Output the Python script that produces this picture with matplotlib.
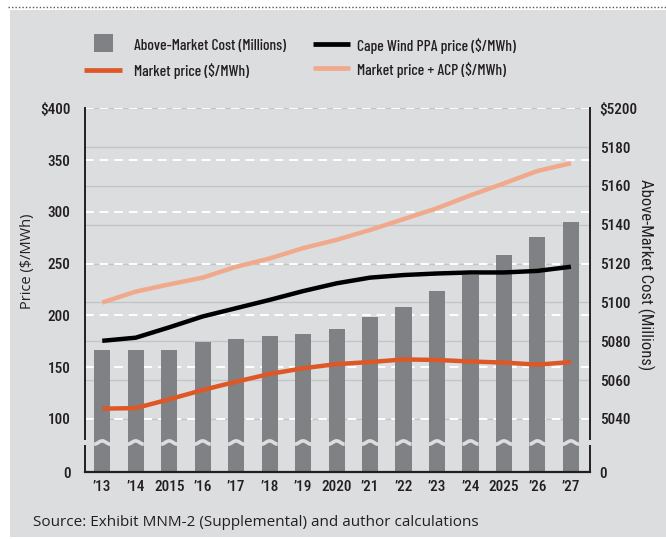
import numpy as np
import matplotlib
matplotlib.use("Agg")
import matplotlib.pyplot as plt
import matplotlib.patches as mpatches
from matplotlib.lines import Line2D
from matplotlib.transforms import blended_transform_factory

# ── Data ──────────────────────────────────────────────────────────────────────
years = ["\u201913", "\u201914", "2015", "\u201916", "\u201917", "\u201918", "\u201919",
         "2020", "\u201921", "\u201922", "\u201923", "\u201924", "2025", "\u201926", "\u201927"]
above_market = [5075.5, 5075.5, 5075.5, 5079.8, 5081.2, 5082.9, 5083.8, 5086.4,
                5092.7, 5097.5, 5105.9, 5114.0, 5124.4, 5133.6, 5141.3]
ppa_price = [175.5, 178.5, 188.5, 199.0, 207.0, 215.0, 223.5, 231.0,
             236.5, 239.0, 240.5, 241.5, 241.5, 243.0, 247.0]
market_price = [110.0, 110.5, 119.0, 128.0, 136.0, 143.5, 149.0, 153.0,
                155.0, 157.5, 157.0, 155.5, 154.5, 152.5, 155.0]
market_acp = [212.5, 223.0, 230.0, 236.5, 247.0, 255.0, 265.0, 273.0,
              282.5, 293.0, 303.5, 316.0, 327.5, 339.5, 347.0]

left_ticks = [0, 100, 150, 200, 250, 300, 350, 400]
left_labels = ["0", "100", "150", "200", "250", "300", "350", "$400"]
right_ticks = [0, 5040, 5060, 5080, 5100, 5120, 5140, 5160, 5180, 5200]
right_labels = ["0", "5040", "5060", "5080", "5100", "5120", "5140", "5160", "5180", "$5200"]

# ── Style ─────────────────────────────────────────────────────────────────────
W, H = 666, 539
PANEL = "#dcdddf"
BAR = "#808184"
ORANGE = "#de5726"
PEACH = "#f1a98c"
INK = "#231f20"
COND = ["Roboto Condensed", "Liberation Sans Narrow", "DejaVu Sans"]
XCOND = ["Barlow Condensed", "Roboto Condensed", "Liberation Sans Narrow", "DejaVu Sans"]
PLAIN = ["Open Sans", "DejaVu Sans"]

# broken axis: the 0..100 / 0..5040 stretch is squeezed into 53 px
LOW_PX = 53.0
HI_L = (363.7 - LOW_PX) / 300.0
HI_R = (363.7 - LOW_PX) / 160.0


def fwd_l(v):
    v = np.asarray(v, float)
    return np.where(v < 100, v * LOW_PX / 100, LOW_PX + (v - 100) * HI_L)


def inv_l(d):
    d = np.asarray(d, float)
    return np.where(d < LOW_PX, d * 100 / LOW_PX, 100 + (d - LOW_PX) / HI_L)


def fwd_r(v):
    v = np.asarray(v, float)
    return np.where(v < 5040, v * LOW_PX / 5040, LOW_PX + (v - 5040) * HI_R)


def inv_r(d):
    d = np.asarray(d, float)
    return np.where(d < LOW_PX, d * 5040 / LOW_PX, 5040 + (d - LOW_PX) / HI_R)


def fx(x):
    return x / W


def fy(y):
    return 1 - y / H


fig = plt.figure(figsize=(W / 100, H / 100), dpi=100)
fig.patch.set_facecolor("white")

# grey panel + dotted rule on top
fig.patches.append(mpatches.Rectangle((fx(10), fy(537)), 1 - fx(10), fy(10) - fy(537),
                                      transform=fig.transFigure, facecolor=PANEL,
                                      edgecolor="none", zorder=-5))
fig.lines.append(Line2D([fx(8), 1], [fy(6.5), fy(6.5)], transform=fig.transFigure,
                        color="#555", lw=1.0, linestyle=(0, (1, 1.5)), zorder=-4))

ax = fig.add_axes([fx(84.5), fy(472), fx(590) - fx(84.5), fy(108.3) - fy(472)])
axr = ax.twinx()
ax.set_zorder(axr.get_zorder() + 1)
ax.patch.set_visible(False)
axr.patch.set_visible(False)

x = np.arange(len(years))
for a in (ax, axr):
    a.set_xlim(-0.53, 14.57)
ax.set_yscale("function", functions=(fwd_l, inv_l))
axr.set_yscale("function", functions=(fwd_r, inv_r))
ax.set_ylim(0, 400)
axr.set_ylim(0, 5200)

# ── Grid (under bars) ─────────────────────────────────────────────────────────
axr.set_yticks(right_ticks)
axr.set_yticklabels(right_labels)
axr.yaxis.grid(True, color="#c3c4c6", lw=1.0)
axr.set_axisbelow(True)
mix = blended_transform_factory(axr.transAxes, ax.transData)
for t in left_ticks[1:]:
    axr.plot([0, 1], [t, t], transform=mix, color="white", lw=1.4,
             linestyle=(0, (4.5, 3)), zorder=1)

# ── Bars + break marks ────────────────────────────────────────────────────────
bw = 0.48
axr.bar(x, above_market, width=bw, color=BAR, zorder=2)
brk = blended_transform_factory(axr.transData, axr.transAxes)
tt = np.linspace(-0.5, 0.5, 30)
wave = 0.081 + 0.0045 * np.cos(tt * np.pi * 2)
for xi in x:
    axr.plot(xi + tt * bw, wave, transform=brk, color=PANEL, lw=2.6,
             solid_capstyle="butt", zorder=3)

# ── Lines ─────────────────────────────────────────────────────────────────────
ax.plot(x, market_acp, color=PEACH, lw=3.2, solid_capstyle="butt", zorder=4)
ax.plot(x, ppa_price, color="black", lw=3.2, solid_capstyle="butt", zorder=5)
ax.plot(x, market_price, color=ORANGE, lw=3.2, solid_capstyle="butt", zorder=5)

# ── Spines (with gap at the break) ────────────────────────────────────────────
for a in (ax, axr):
    for s in a.spines.values():
        s.set_visible(False)
g_lo, g_hi = (472 - 446) / 363.7, (472 - 439) / 363.7
for xs in (0, 1):
    for y0, y1 in ((0, g_lo), (g_hi, 1)):
        ax.plot([xs, xs], [y0, y1], transform=ax.transAxes, color=INK, lw=1.4,
                clip_on=False, zorder=6)
ax.plot([0, 1], [0, 0], transform=ax.transAxes, color=INK, lw=1.6,
        clip_on=False, zorder=6)

# ── Ticks ─────────────────────────────────────────────────────────────────────
ax.set_xticks(x)
ax.set_xticklabels(years, family=COND, fontsize=11, color=INK, fontweight="medium")
ax.set_yticks(left_ticks)
ax.set_yticklabels(left_labels, family=COND, fontsize=11, color=INK, fontweight="medium")
for lab in axr.get_yticklabels():
    lab.set_family(COND)
    lab.set_fontsize(11)
    lab.set_fontweight("medium")
    lab.set_color(INK)
ax.tick_params(axis="x", length=0, pad=6)
ax.tick_params(axis="y", length=0, pad=10)
axr.tick_params(axis="y", length=0, pad=7)
ax.yaxis.set_minor_locator(plt.NullLocator())
axr.yaxis.set_minor_locator(plt.NullLocator())

ax.set_ylabel("Price ($/MWh)", family=PLAIN, fontsize=10.5, color=INK)
ax.yaxis.set_label_coords((35 - 84.5) / 505.5, (472 - 261) / 363.7)
axr.set_ylabel("Above-Market Cost (Millions)", family=COND, fontsize=12,
               color=INK, rotation=-90, va="center")
axr.yaxis.set_label_coords((646 - 84.5) / 505.5, (472 - 275) / 363.7)

# ── Legend (manual) ───────────────────────────────────────────────────────────
fig.patches.append(mpatches.Rectangle((fx(94), fy(52.3)), fx(18.7), fy(34) - fy(52.3),
                                      transform=fig.transFigure, facecolor=BAR,
                                      edgecolor="none"))
for (x0, x1, yy, col) in [(312.7, 350, 44.5, "black"), (84, 122, 69.7, ORANGE),
                          (312.7, 350, 68, PEACH)]:
    fig.lines.append(Line2D([fx(x0), fx(x1)], [fy(yy), fy(yy)], transform=fig.transFigure,
                            color=col, lw=3.4, solid_capstyle="butt"))
for (xx, yy, txt) in [(134, 46, "Above-Market Cost (Millions)"),
                      (356.7, 46.3, "Cape Wind PPA price ($/MWh)"),
                      (134, 71, "Market price ($/MWh)"),
                      (356.7, 69.7, "Market price + ACP ($/MWh)")]:
    fig.text(fx(xx), fy(yy), txt, family=XCOND, fontsize=11.2, color=INK,
             ha="left", va="center", fontweight="medium")

fig.text(fx(33), fy(522), "Source: Exhibit MNM-2 (Supplemental) and author calculations",
         family=PLAIN, fontsize=11, color=INK, ha="left", va="center")

fig.savefig("out.png", dpi=100, facecolor="white")
